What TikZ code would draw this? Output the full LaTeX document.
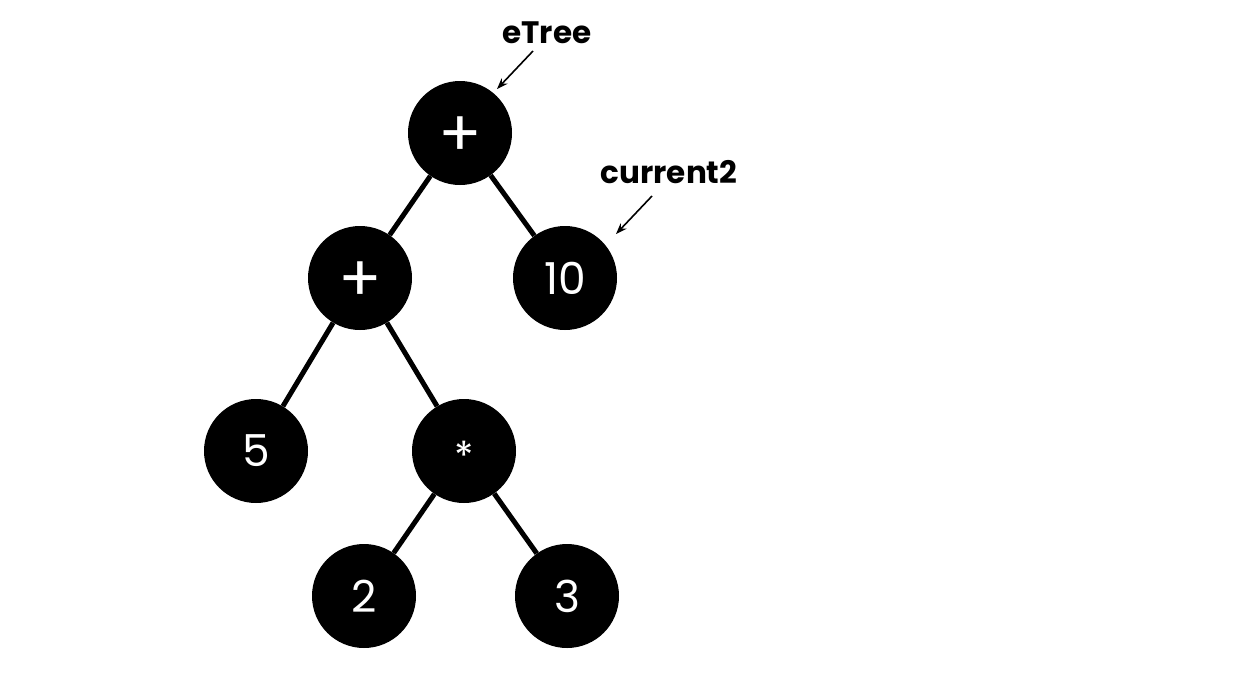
\documentclass[tikz,border=0pt]{standalone}
\usepackage{fontspec}
\setmainfont{Poppins}
\usetikzlibrary{arrows.meta}
% lower a glyph inside its node while keeping the box size
\newcommand{\lowered}[2]{\raisebox{-#1}[\height][\depth]{#2}}
\begin{document}
\begin{tikzpicture}[x=1pt,y=-1pt,
  treenode/.style={circle,fill=black,minimum size=104pt,inner sep=0pt,
    text=white,font=\fontsize{44}{44}\selectfont},
  bigsign/.style={font=\fontsize{64}{64}\selectfont},
  edge/.style={line width=5pt},
  pointer/.style={line width=1.6pt,-{Stealth[length=11pt,width=8pt]}},
  tag/.style={font=\fontsize{31}{31}\selectfont\bfseries}]
\useasboundingbox[fill=white] (0,0) rectangle (1250,697);
% expression tree
\node[treenode,bigsign] (root) at (460,133) {\lowered{4pt}{+}};
\node[treenode,bigsign] (lplus) at (360,278) {\lowered{4pt}{+}};
\node[treenode] (ten) at (565,278) {10};
\node[treenode] (five) at (256,451) {5};
\node[treenode] (times) at (464,451) {\fontsize{40}{40}\selectfont\lowered{5pt}{*}};
\node[treenode] (two) at (364,596) {2};
\node[treenode] (three) at (567,596) {3};
% edges drawn from border to border
\draw[edge] (root) -- (lplus);
\draw[edge] (root) -- (ten);
\draw[edge] (lplus) -- (five);
\draw[edge] (lplus) -- (times);
\draw[edge] (times) -- (two);
\draw[edge] (times) -- (three);
% pointer labels
\node[tag] (etree) at (547,33) {eTree};
\node[tag] (cur) at (669,172) {current2};
\coordinate (etail) at (533,51);
\coordinate (ehead) at (497,89);
\coordinate (ctail) at (652,196);
\coordinate (chead) at (616,234);
\draw[pointer] (etail) -- (ehead);
\draw[pointer] (ctail) -- (chead);
\end{tikzpicture}
\end{document}
